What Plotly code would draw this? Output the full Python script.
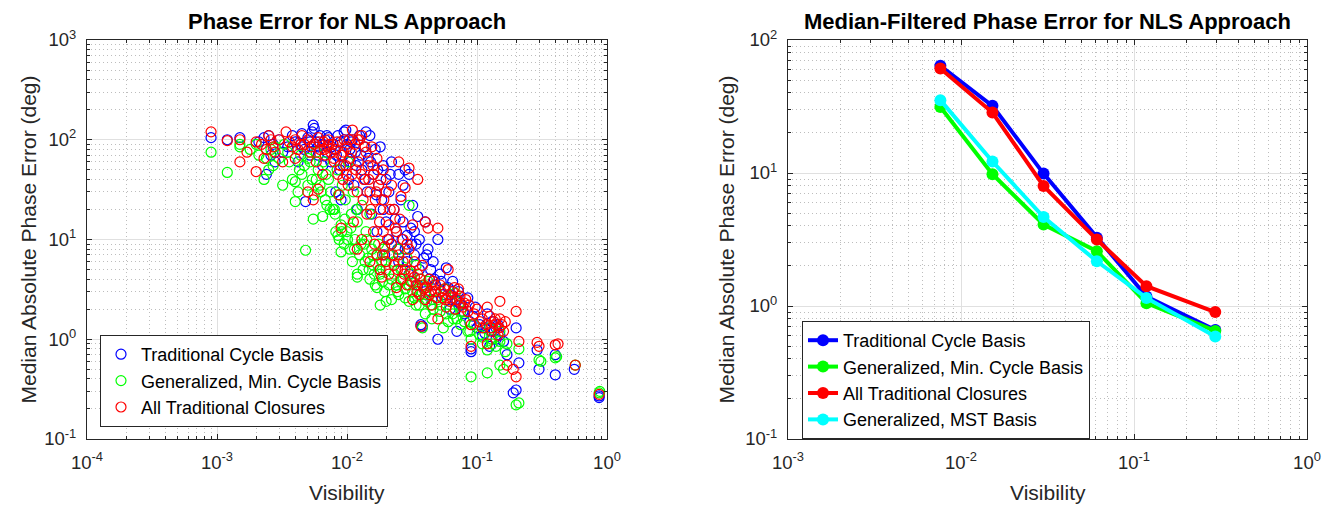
import plotly.graph_objects as go

# ---------------- Left panel data (scatter) ----------------
blue_x = [0.0009,0.0012,0.0015,0.0021,0.0023,0.0024,0.0025,0.0026,0.0027,0.0028,0.003,0.0032,0.0035,
          0.0038,0.004,0.0042,0.0044,0.0045,0.0047,0.0048,0.005,0.0052,0.0054,0.0055,0.0056,0.0058,0.006,0.0062,0.0065,0.0068,0.007,
          0.0072,0.0075,0.0078,0.008,0.0082,0.0085,0.0088,0.009,0.0093,0.0095,0.0098,0.01,0.0103,0.0106,0.011,0.0113,0.0116,0.012,
          0.0125,0.013,0.0135,0.014,0.0143,0.0146,0.015,0.0155,0.016,0.0165,0.017,0.0175,0.018,0.0185,0.019,0.0195,0.02,0.02,
          0.021,0.022,0.022,0.023,0.024,0.025,0.025,0.026,0.027,0.028,0.028,0.029,0.03,0.03,0.031,0.032,0.033,0.034,0.035,0.035,0.036,0.037,0.038,0.039,0.04,0.04,
          0.042,0.043,0.045,0.046,0.048,0.05,0.05,0.052,0.055,0.058,0.06,0.062,0.065,0.068,0.07,0.072,0.075,0.08,0.085,0.09,0.09,0.093,0.097,
          0.105,0.11,0.115,0.12,0.125,0.13,0.135,0.14,0.145,0.15,0.16,0.17,0.2,0.21,0.19,0.2,0.29,0.3,0.4,0.4,0.56,0.87,0.87,
          0.0045,0.0052,0.006,0.0065,0.007,0.0076,0.0083,0.0089,0.0094,0.0105,0.0108,0.0118,0.0128,0.0138,0.0152,0.0168,0.0172,0.019,0.021,0.0215,
          0.0235,0.0245,0.0265,0.027,0.029,0.0315,0.033,0.036,0.041,0.044,0.047,0.053,0.057,0.063,0.07,0.078,0.088,0.1,0.115,0.14]
blue_y = [105,100,105,95,105,45,110,70,90,60,100,75,85,
          110,95,60,90,115,80,24,105,70,120,140,130,95,85,110,55,100,75,
          105,60,90,80,30,110,50,25,70,120,125,90,40,60,100,35,75,20,
          110,50,85,120,30,65,110,18,45,80,12,35,85,25,55,7,40,15,
          30,60,9,20,12,45,6,25,15,50,8,11,45,4.5,13,22,7,9,17,3.5,5,1.4,1.35,6.5,15,3,
          8,4,2.5,6,3.5,10,1.0,4.5,2.8,5.2,3.3,2,3.8,2.5,1.2,3,2.2,1.8,2.6,0.8,0.75,1.7,2.1,
          1.4,1.1,1.3,1.8,0.85,1.5,1.2,1.0,1.4,1.1,0.95,0.7,1.3,0.58,0.29,0.31,0.78,0.5,0.44,0.7,0.5,0.26,0.27,
          85,95,70,90,110,85,70,95,55,80,95,55,70,40,60,28,50,20,10,45,
          16,8,10,35,6,9,12,10,7,5,4,3.8,3.2,2.8,2.4,1.9,1.5,1.3,1.15,1.3]

green_x = [0.0009,0.0012,0.0015,0.0015,0.0018,0.002,0.0021,0.0023,0.0024,0.0025,0.0026,0.0027,0.0028,0.003,0.0032,0.0033,
           0.0036,0.0038,0.004,0.004,0.0042,0.0044,0.0045,0.0047,0.0048,0.005,0.0052,0.0054,0.0055,0.0056,0.0058,0.006,0.0062,0.0065,0.0066,0.0068,0.007,
           0.0072,0.0075,0.0078,0.008,0.0082,0.0084,0.0085,0.0087,0.009,0.009,0.0092,0.0095,0.0097,0.01,0.0102,0.0105,0.0108,0.011,0.0112,0.0115,0.012,0.012,0.012,
           0.0125,0.013,0.0133,0.0136,0.014,0.0145,0.015,0.015,0.0155,0.016,0.0165,0.017,0.017,0.0175,0.018,0.018,0.0185,0.019,0.0195,0.02,0.02,
           0.021,0.022,0.022,0.023,0.024,0.025,0.025,0.026,0.027,0.028,0.029,0.03,0.03,0.031,0.032,0.033,0.034,0.035,0.036,0.037,0.038,0.039,0.04,0.04,
           0.042,0.044,0.045,0.047,0.05,0.052,0.055,0.057,0.06,0.062,0.065,0.068,0.07,0.072,0.075,0.08,0.085,0.09,0.09,0.095,
           0.105,0.11,0.12,0.12,0.125,0.13,0.14,0.15,0.15,0.16,0.165,0.17,0.2,0.21,0.21,0.3,0.31,0.4,0.41,0.57,0.87,0.88,
           0.0035,0.0043,0.005,0.0058,0.0063,0.0069,0.0074,0.0081,0.0086,0.0091,0.0096,0.0101,0.0107,0.0114,0.0118,0.0128,0.0138,0.0142,0.0148,0.0158,0.0162,
           0.0178,0.0188,0.0198,0.021,0.023,0.0245,0.026,0.028,0.03,0.032,0.034,0.037,0.041,0.046,0.052,0.058,0.066,0.075,0.088,0.11,0.13,0.15]
green_y = [75,47,90,85,80,90,70,40,65,50,80,55,85,65,35,90,
           60,40,24,38,30,70,45,55,7.8,35,60,40,16,28,75,50,35,17,60,25,22,
           40,30,20,20,12,50,11,10,7.5,14,35,9,25,12,60,8,18,6,30,10,4.2,4.5,15,
           7,22,5,9,12,6.5,4,18,8,5.5,3.5,7,3.3,9,2.2,4.5,6,8,3,2.4,5,
           7,4,2.5,6,3.5,8,2.8,5,4,3.2,6.5,2.4,22,4.5,3.8,2.6,5.5,3,2.2,4,1.3,3.5,1.8,2.8,
           3.8,2.2,1.6,3,2.5,1.9,1.3,3.2,1.5,2.4,1.8,2.9,1.6,2.2,1.9,1.5,1.2,0.42,1.0,1.4,
           1.1,0.9,0.46,0.78,1.3,1.0,0.85,0.55,1.2,0.5,0.75,0.9,0.22,0.23,0.8,0.62,0.6,0.65,0.67,0.55,0.29,0.3,
           75,50,65,40,30,45,20,18,28,12,16,10,13,8,20,9,6,10,5,7,4.5,
           5,3.8,6,3.5,4.5,3,3.8,2.6,3.5,3,2.2,2.8,2.4,2,2.2,1.8,1.6,1.4,1.2,1.05,0.9,0.95]

red_x = [0.0009,0.0012,0.0015,0.0015,0.0017,0.002,0.002,0.0022,0.0023,0.0024,0.0025,0.0026,0.0027,0.0028,0.003,0.0032,0.0034,
         0.0036,0.0038,0.004,0.004,0.0042,0.0045,0.0047,0.005,0.005,0.0052,0.0055,0.0056,0.0058,0.006,0.006,0.0062,0.0065,0.0066,0.0068,0.007,
         0.0072,0.0075,0.0078,0.008,0.0082,0.0085,0.0087,0.009,0.009,0.0093,0.0095,0.0098,0.01,0.0102,0.0105,0.011,0.011,0.0112,0.0115,0.012,0.012,0.0122,
         0.0125,0.013,0.013,0.0135,0.014,0.0142,0.0145,0.015,0.015,0.0155,0.016,0.016,0.0165,0.017,0.017,0.0175,0.018,0.018,0.0185,0.019,0.019,0.0195,0.02,0.02,
         0.021,0.021,0.022,0.022,0.023,0.023,0.024,0.024,0.025,0.025,0.026,0.026,0.027,0.028,0.028,0.029,0.03,0.03,0.031,0.032,0.032,0.033,0.034,0.035,0.035,0.036,0.037,0.038,0.039,0.04,0.04,
         0.042,0.043,0.044,0.045,0.046,0.048,0.05,0.05,0.052,0.054,0.056,0.058,0.06,0.06,0.062,0.065,0.068,0.07,0.072,0.075,0.078,0.08,0.085,0.09,0.09,0.095,0.1,
         0.105,0.11,0.12,0.12,0.125,0.13,0.135,0.14,0.145,0.15,0.15,0.16,0.165,0.17,0.19,0.2,0.2,0.21,0.29,0.3,0.4,0.42,0.57,0.87,
         0.0044,0.0053,0.0061,0.0067,0.0073,0.0079,0.0084,0.0089,0.0094,0.0099,0.0104,0.0108,0.0117,0.0121,0.0128,0.0133,0.0138,0.0147,0.0152,0.0158,
         0.0163,0.0168,0.0178,0.0182,0.0188,0.0192,0.0205,0.0215,0.0225,0.0235,0.0245,0.0255,0.027,0.0275,0.029,0.031,0.033,0.0345,0.0365,0.038,
         0.041,0.043,0.047,0.049,0.053,0.057,0.064,0.067,0.074,0.082,0.087,0.11,0.118,0.128,0.138,0.148,0.155]
red_y = [120,98,100,60,75,48,95,90,65,80,110,100,85,75,100,60,120,
         95,85,65,100,80,110,90,30,100,75,25,90,60,32,105,80,45,95,70,85,
         100,75,90,60,80,45,28,13,70,40,100,55,85,35,65,125,45,15,90,30,8,60,
         100,110,10,40,75,18,55,6,30,85,12,45,25,7,65,35,5,20,4.2,50,12,8.5,30,6,
         14,4.5,35,9,5.5,20,12,3.3,60,7,27,4,10,5,33,3.5,52,8,4.8,2.5,14,6,3.5,40,4.5,2.8,1.35,5.5,3.2,15,2.5,
         13,4,3,2.2,3.8,3,13,1.6,3.5,2.6,3.2,2.1,5,2.8,2.4,3,2,2.5,3.2,2.3,2.1,2.3,1.9,0.85,1.4,1.8,2,
         1.5,1.3,2.1,0.9,1.7,1.2,1.5,1.4,1.1,2.4,1.6,1.2,1.5,0.55,0.5,0.42,1.9,0.95,0.93,0.85,0.88,0.9,0.55,0.28,
         90,85,95,80,90,65,95,55,75,45,100,75,50,100,45,25,85,40,20,55,
         9,30,15,40,7,25,10,20,7,13,5,16,6,4.5,9,3.8,4.2,3,4,3.5,
         3.3,2.8,3.5,2.6,3,2.5,2.6,3.3,2.7,2.5,2.2,1.6,1.4,1.3,1.6,1.3,1.4]

# ---------------- Right panel data (median-filtered) ----------------
med_x = [0.0076, 0.0152, 0.030, 0.061, 0.118, 0.295]
med_trad = [64, 32, 9.9, 3.26, 1.18, 0.66]
med_gen_min = [31.4, 9.8, 4.1, 2.58, 1.05, 0.65]
med_all = [61, 28.5, 8.0, 3.16, 1.41, 0.90]
med_gen_mst = [35.3, 12.2, 4.66, 2.17, 1.15, 0.59]

names = ["Traditional Cycle Basis", "Generalized, Min. Cycle Basis",
         "All Traditional Closures", "Generalized, MST Basis"]
colors = ["#0000ff", "#00ff00", "#ff0000", "#00ffff"]
titles = ["Phase Error for NLS Approach", "Median-Filtered Phase Error for NLS Approach"]
xlabel = "Visibility"
ylabel = "Median Absolute Phase Error (deg)"

FONT = "Liberation Sans, Arial, Helvetica, sans-serif"
TXT = "#262626"
W, H = 1338, 505

fig = go.Figure()

for xs, ys, nm, c in [(blue_x, blue_y, names[0], colors[0]),
                      (green_x, green_y, names[1], colors[1]),
                      (red_x, red_y, names[2], colors[2])]:
    fig.add_trace(go.Scatter(x=xs, y=ys, mode="markers", name=nm,
                             marker=dict(symbol="circle-open", size=10, color=c, line=dict(width=1.2, color=c)),
                             xaxis="x", yaxis="y", legend="legend"))

for ys, nm, c in [(med_trad, names[0], colors[0]), (med_gen_min, names[1], colors[1]),
                  (med_all, names[2], colors[2]), (med_gen_mst, names[3], colors[3])]:
    fig.add_trace(go.Scatter(x=med_x, y=ys, mode="lines+markers", name=nm,
                             line=dict(color=c, width=4),
                             marker=dict(symbol="circle", size=12, color=c),
                             xaxis="x2", yaxis="y2", legend="legend2"))

def sup(e):
    return "10<sup>%d</sup>" % e

def minor_vals(e0, e1):
    return [m * 10.0 ** e for e in range(e0, e1) for m in range(2, 10)]

def axis_common(domain, e0, e1, anchor, standoff):
    return dict(type="log", domain=domain, range=[e0, e1], anchor=anchor, automargin=False,
                tickmode="array", tickvals=[10.0 ** e for e in range(e0, e1 + 1)],
                ticktext=[sup(e) for e in range(e0, e1 + 1)],
                ticks="inside", ticklen=5, tickcolor=TXT, tickwidth=1,
                ticklabelstandoff=standoff,
                showline=True, linecolor=TXT, linewidth=1, mirror="ticks",
                showgrid=True, gridcolor="#e0e0e0", gridwidth=1,
                minor=dict(tickmode="array", tickvals=minor_vals(e0, e1), ticks="inside", ticklen=3,
                           tickcolor=TXT, showgrid=True, gridcolor="#bdbdbd", griddash="1px,3px", gridwidth=1),
                tickfont=dict(family=FONT, size=18.5, color=TXT),
                zeroline=False)

L = (79, 599)
R = (780, 1299)
TOP, BOT = 32, 431
ydom = [1 - BOT / H, 1 - TOP / H]
xa = axis_common([L[0] / W, L[1] / W], -4, 0, "y", 7)
ya = axis_common(ydom, -1, 3, "x", 6)
xa2 = axis_common([R[0] / W, R[1] / W], -3, 0, "y2", 7)
ya2 = axis_common(ydom, -1, 2, "x2", 6)

legend_common = dict(bgcolor="white", bordercolor=TXT, borderwidth=1,
                     font=dict(family=FONT, size=18, color="black"),
                     xanchor="left", yanchor="top", tracegroupgap=0, itemwidth=30)

def ann(text, x, y, size, angle=0, bold=False, color=TXT):
    return dict(text=("<b>%s</b>" % text) if bold else text, x=x / W, y=1 - y / H,
                xref="paper", yref="paper", showarrow=False, xanchor="center", yanchor="middle",
                textangle=angle, font=dict(family=FONT, size=size, color=color))

fig.update_layout(
    width=W, height=H,
    margin=dict(l=0, r=0, t=0, b=0),
    paper_bgcolor="white", plot_bgcolor="white",
    xaxis=xa, yaxis=ya, xaxis2=xa2, yaxis2=ya2,
    legend=dict(x=92 / W, y=1 - 327 / H, **legend_common),
    legend2=dict(x=794 / W, y=1 - 313 / H, **legend_common),
    annotations=[
        ann(titles[0], (L[0] + L[1]) / 2, 13, 22, bold=True, color="black"),
        ann(titles[1], (R[0] + R[1]) / 2, 13, 22, bold=True, color="black"),
        ann(xlabel, (L[0] + L[1]) / 2, 484, 21),
        ann(xlabel, (R[0] + R[1]) / 2, 484, 21),
        ann(ylabel, 20, (TOP + BOT) / 2, 21, angle=-90),
        ann(ylabel, 718, (TOP + BOT) / 2, 21, angle=-90),
    ],
    showlegend=True,
)

fig.write_html("out.html")
